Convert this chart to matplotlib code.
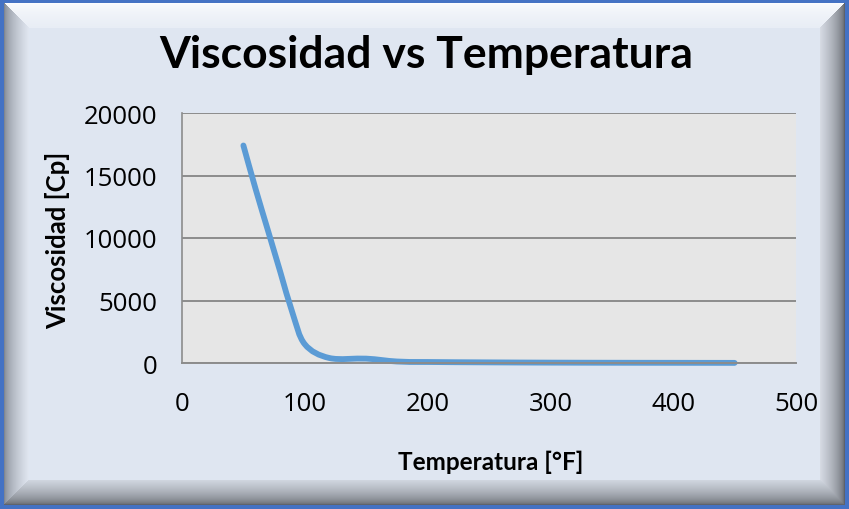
import numpy as np
import matplotlib
matplotlib.use("Agg")
import matplotlib.pyplot as plt
from matplotlib.path import Path
from matplotlib.patches import PathPatch

plt.rcParams['font.family'] = ['Lato', 'DejaVu Sans']

# Viscosity readings against temperature
temperatura = [50, 60, 70, 80, 90, 100, 120, 150, 175, 200, 250, 300, 350, 400, 450]
viscosidad = [17400, 13900, 10600, 7300, 4000, 1500, 400, 350, 120, 80, 50, 30, 20, 15, 10]

x_ticks = [0, 100, 200, 300, 400, 500]
y_ticks = [0, 5000, 10000, 15000, 20000]

W, H = 849, 510
fig = plt.figure(figsize=(W / 100, H / 100), dpi=100)

# beveled frame drawn as a background image
bg = fig.add_axes([0, 0, 1, 1])
bg.set_axis_off()
yy, xx = np.mgrid[0:H, 0:W].astype(float)
img = np.zeros((H, W, 3))
inner = np.array([0xdf, 0xe6, 0xf1]) / 255
img[:] = inner
bw = 25.0
dt, db, dl, dr = yy - 4, (H - 5) - yy, xx - 4, (W - 5) - xx
dmin = np.minimum(np.minimum(dt, db), np.minimum(dl, dr))
faces = {
    'top': (dt, np.array([0xfb, 0xfc, 0xfe]) / 255, np.array([0xe8, 0xed, 0xf5]) / 255),
    'left': (dl, np.array([0x80, 0x86, 0x90]) / 255, np.array([0xe2, 0xe8, 0xf2]) / 255),
    'right': (dr, np.array([0x5e, 0x62, 0x69]) / 255, np.array([0xd8, 0xdd, 0xe6]) / 255),
    'bottom': (db, np.array([0x60, 0x64, 0x6b]) / 255, np.array([0xd2, 0xd8, 0xe1]) / 255),
}
for name, (d, c_edge, c_in) in faces.items():
    m = (d == dmin) & (d < bw)
    t = np.clip(d / bw, 0, 1)[..., None] ** 0.6
    col = c_edge * (1 - t) + c_in * t
    img[m] = col[m]
blue = np.array([0x44, 0x72, 0xc4]) / 255
border = (dt < 0) | (db < 0) | (dl < 0) | (dr < 0)
img[border] = blue
bg.imshow(img, extent=[0, W, H, 0], aspect='auto', interpolation='nearest')
bg.set_xlim(0, W)
bg.set_ylim(H, 0)

ax = fig.add_axes([182 / W, 1 - 364 / H, (796 - 182) / W, (364 - 114) / H])
ax.set_facecolor('#e6e6e6')
ax.set_xlim(0, 500)
ax.set_ylim(0, 20000)
ax.set_xticks(x_ticks)
ax.set_yticks(y_ticks)
ax.set_xticklabels([str(v) for v in x_ticks], fontfamily='Open Sans', fontsize=18.5)
ax.set_yticklabels([str(v) for v in y_ticks], fontfamily='Open Sans', fontsize=18.5)
ax.tick_params(axis='x', length=0, pad=20)
ax.tick_params(axis='y', length=0, pad=18)
ax.grid(axis='y', color='#8c8c8c', linewidth=1.4)
ax.set_axisbelow(True)
for s in ['top', 'right']:
    ax.spines[s].set_visible(False)
ax.spines['left'].set_color('#8c8c8c')
ax.spines['bottom'].set_color('#8c8c8c')
ax.spines['left'].set_linewidth(1.2)
ax.spines['bottom'].set_linewidth(1.4)

# smoothed line (Catmull-Rom style cubic segments)
px = np.array(temperatura, dtype=float)
py = np.array(viscosidad, dtype=float)
n = len(px)
verts = [(px[0], py[0])]
codes = [Path.MOVETO]
for i in range(n - 1):
    p0 = np.array([px[max(i - 1, 0)], py[max(i - 1, 0)]])
    p1 = np.array([px[i], py[i]])
    p2 = np.array([px[i + 1], py[i + 1]])
    p3 = np.array([px[min(i + 2, n - 1)], py[min(i + 2, n - 1)]])
    c1 = p1 + (p2 - p0) / 6
    c2 = p2 - (p3 - p1) / 6
    verts += [tuple(c1), tuple(c2), tuple(p2)]
    codes += [Path.CURVE4] * 3
ax.add_patch(PathPatch(Path(verts, codes), facecolor='none', edgecolor='#5b9bd5',
                       linewidth=4.2, capstyle='round', joinstyle='round', clip_on=False))

fig.text(426 / W, 1 - 55 / H, 'Viscosidad vs Temperatura', ha='center', va='center',
         fontsize=32, fontweight='bold')
fig.text(491 / W, 1 - 462 / H, 'Temperatura [°F]', ha='center', va='center',
         fontsize=17.5, fontweight='bold')
fig.text(58 / W, 1 - 240 / H, 'Viscosidad [Cp]', ha='center', va='center',
         rotation=90, fontsize=18.5, fontweight='bold')

fig.savefig('out.png', dpi=100)
